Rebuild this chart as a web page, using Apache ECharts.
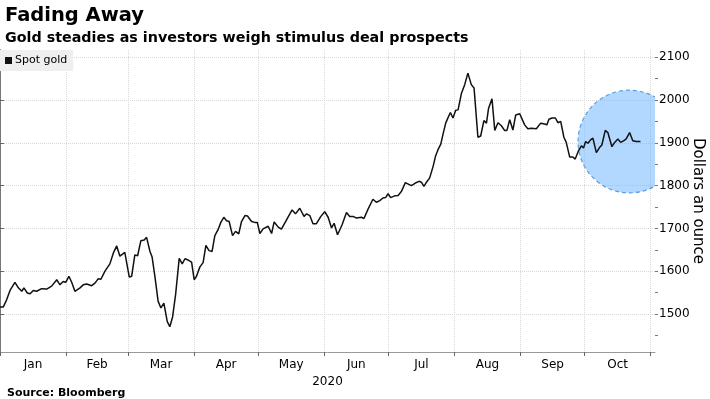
<!DOCTYPE html>
<html>
<head>
<meta charset="utf-8">
<script src="https://cdn.jsdelivr.net/npm/echarts@6/dist/echarts.min.js"></script>
<style>
  html, body { margin: 0; padding: 0; background: #fff; }
  #chart { width: 710px; height: 399px; }
</style>
</head>
<body>
<div id="chart"></div>
<script>
// day offsets from 1 Jan 2020
var days = [0, 1.5, 3.1, 4.7, 7.0, 8.6, 10.2, 11.2, 12.8, 14.1, 15.6, 17.2, 19.5, 21.9, 24.2, 26.6, 28.1, 29.6, 30.8, 32.3,
  33.6, 35.1, 37.5, 39.0, 40.6, 43.0, 44.5, 46.0, 47.3, 49.2, 51.5, 53.1, 54.7, 56.2, 58.5, 60.6, 61.7, 63.2, 64.5, 66.0,
  67.6, 68.7, 70.3, 71.3, 72.6, 74.1, 75.4, 76.8, 78.4, 79.6, 80.9, 82.3, 84.0, 85.4, 86.7, 88.2, 89.8, 91.0, 92.1, 93.7,
  95.2, 96.5, 98.0, 99.4, 100.7, 102.2, 103.5, 104.9, 106.2, 107.4, 109.0, 110.4, 111.9, 113.2, 114.8, 116.0, 117.9, 119.4, 120.6, 121.8,
  123.3, 125.7, 127.3, 128.5, 130.4, 131.9, 134.3, 136.9, 138.5, 140.5, 142.5, 143.7, 145.2, 146.7, 148.3, 150.4, 152.2, 153.8, 155.4, 156.6,
  158.2, 160.3, 162.4, 163.9, 165.5, 167.1, 169.4, 170.6, 172.5, 174.8, 176.4, 178.0, 179.5, 180.7, 181.9, 183.1, 185.0, 186.6, 188.1, 190.0,
  191.6, 192.8, 194.7, 196.4, 197.5, 198.7, 199.9, 201.4, 203.0, 204.2, 205.3, 206.6, 207.6, 208.9, 210.0, 211.1, 212.3, 213.6, 214.7, 216.3,
  217.8, 219.3, 220.9, 222.2, 224.0, 225.3, 226.8, 228.0, 229.0, 230.6, 231.9, 233.4, 235.0, 236.5, 237.6, 238.9, 240.4, 241.7, 243.6, 244.4,
  245.9, 247.4, 249.0, 251.4, 253.4, 255.3, 256.3, 257.3, 258.7, 260.3, 261.5, 262.8, 264.3, 265.4, 267.0, 268.5, 269.6, 271.2, 272.5, 273.5,
  274.5, 275.6, 276.8, 277.9, 279.5, 281.0, 282.1, 283.7, 284.9, 286.8, 288.1, 289.6, 290.9, 292.4, 293.5, 295.1, 296.6, 298.2, 300.2];

// spot gold, dollars an ounce
var spotGold = [1516, 1516, 1533, 1555, 1574, 1561, 1553, 1561, 1549, 1547, 1555, 1553, 1559, 1558, 1565, 1580, 1568, 1576, 1574, 1588,
  1574, 1553, 1561, 1568, 1570, 1566, 1572, 1582, 1581, 1600, 1617, 1642, 1659, 1635, 1644, 1586, 1588, 1638, 1636, 1671,
  1673, 1679, 1646, 1633, 1588, 1530, 1514, 1525, 1482, 1470, 1493, 1545, 1630, 1617, 1629, 1626, 1621, 1580, 1588, 1610,
  1620, 1660, 1648, 1646, 1683, 1697, 1714, 1726, 1718, 1716, 1683, 1693, 1687, 1716, 1730, 1729, 1716, 1714, 1714, 1688,
  1699, 1705, 1688, 1715, 1703, 1698, 1720, 1743, 1734, 1747, 1728, 1734, 1730, 1711, 1711, 1728, 1739, 1726, 1701, 1712,
  1685, 1708, 1737, 1728, 1728, 1724, 1726, 1723, 1745, 1768, 1761, 1765, 1771, 1772, 1781, 1772, 1776, 1777, 1786, 1807,
  1803, 1800, 1806, 1810, 1808, 1798, 1808, 1818, 1845, 1870, 1884, 1897, 1919, 1946, 1959, 1971, 1958, 1976, 1977, 2016,
  2036, 2063, 2036, 2028, 1913, 1916, 1952, 1946, 1981, 2003, 1929, 1947, 1940, 1929, 1929, 1954, 1930, 1965, 1968, 1969,
  1942, 1933, 1934, 1933, 1946, 1944, 1942, 1955, 1958, 1958, 1947, 1950, 1913, 1901, 1867, 1867, 1862, 1882, 1893, 1888,
  1903, 1899, 1907, 1911, 1877, 1889, 1895, 1929, 1924, 1891, 1901, 1909, 1901, 1905, 1909, 1924, 1905, 1903, 1903];

var monthNames = ['Jan', 'Feb', 'Mar', 'Apr', 'May', 'Jun', 'Jul', 'Aug', 'Sep', 'Oct'];
var monthStarts = [0, 31, 60, 91, 121, 152, 182, 213, 244, 274, 305];
var priceLabels = [1500, 1600, 1700, 1800, 1900, 2000, 2100];
var priceMinorTicks = [1450, 1500, 1550, 1600, 1650, 1700, 1750, 1800, 1850, 1900, 1950, 2000, 2050, 2100];
// blue circle over the latest weeks: centre day, centre price, radius in dollars
var highlight = [[295, 1903, 120]];

var monthMids = monthNames.map(function (m, i) { return (monthStarts[i] + monthStarts[i + 1]) / 2 })

var chart = echarts.init(document.getElementById('chart'))
var font = 'DejaVu Sans'

var option = {
  animation: false,
  textStyle: { fontFamily: font },
  title: [
    { text: 'Fading Away', left: 0, top: 1, textStyle: { fontSize: 19.5, fontWeight: 'bold', color: '#000' } },
    { text: 'Gold steadies as investors weigh stimulus deal prospects', left: 0, top: 26, textStyle: { fontSize: 14.3, fontWeight: 'bold', color: '#000' } },
    { text: 'Source: Bloomberg', left: 2, top: 383, textStyle: { fontSize: 11, fontWeight: 'bold', color: '#000' } }
  ],
  legend: {
    left: 0, top: 50,
    icon: 'rect', itemWidth: 7, itemHeight: 7, itemGap: 4,
    backgroundColor: '#efefef',
    padding: [5, 6, 5, 5],
    textStyle: { fontSize: 11, color: '#000', padding: [0, 0, 0, -2] },
    data: ['Spot gold']
  },
  grid: { left: 0, right: 55, top: 50, bottom: 47, outerBoundsMode: 'none', containLabel: false },
  xAxis: {
    type: 'value', min: 0, max: 307,
    name: '2020', nameLocation: 'middle', nameGap: 24,
    nameTextStyle: { fontSize: 12, color: '#000' },
    axisLine: { show: true, onZero: false, lineStyle: { color: '#999' } },
    axisTick: { show: true, length: 4, customValues: monthStarts, lineStyle: { color: '#666' } },
    axisLabel: {
      customValues: monthMids, fontSize: 12, color: '#000', margin: 7,
      formatter: function (v) { return monthNames[monthMids.indexOf(v)] }
    },
    splitLine: { show: true, lineStyle: { color: '#d8d8d8', type: 'dotted' } }
  },
  yAxis: [{
    type: 'value', position: 'right', min: 1411, max: 2117,
    name: 'Dollars an ounce', nameLocation: 'middle', nameGap: 35, nameRotate: -90,
    nameMoveOverlap: false,
    nameTextStyle: { fontSize: 15, color: '#000' },
    axisLine: { show: true, lineStyle: { color: '#777', width: 2 } },
    axisTick: { show: true, length: 4, customValues: priceLabels, lineStyle: { color: '#666' } },
    axisLabel: {
      customValues: priceLabels, fontSize: 12, color: '#000', margin: 4,
      formatter: function (v) { return String(v) }
    },
    splitLine: { show: true, lineStyle: { color: '#d8d8d8', type: 'dotted' } }
  }, {
    type: 'value', position: 'right', min: 1411, max: 2117,
    axisLine: { show: false },
    axisTick: { show: true, length: 3, customValues: priceMinorTicks, lineStyle: { color: '#777' } },
    axisLabel: { show: false },
    splitLine: { show: false }
  }],
  series: [
    {
      name: 'highlight',
      type: 'custom',
      data: highlight,
      clip: true,
      silent: true,
      z: 1,
      renderItem: function (params, api) {
        var c = api.coord([api.value(0), api.value(1)])
        var r = api.size([0, api.value(2)])[1]
        return {
          type: 'circle',
          shape: { cx: c[0], cy: c[1], r: r },
          style: {
            fill: 'rgba(102,178,255,0.5)',
            stroke: '#5a9fe0',
            lineWidth: 1.2,
            lineDash: [4, 3]
          }
        }
      }
    },
    {
      name: 'Spot gold',
      type: 'line',
      data: days.map(function (d, i) { return [d, spotGold[i]] }),
      showSymbol: false,
      z: 3,
      lineStyle: { color: '#111', width: 1.5 },
      itemStyle: { color: '#111' }
    }
  ]
}
chart.setOption(option)
</script>
</body>
</html>
